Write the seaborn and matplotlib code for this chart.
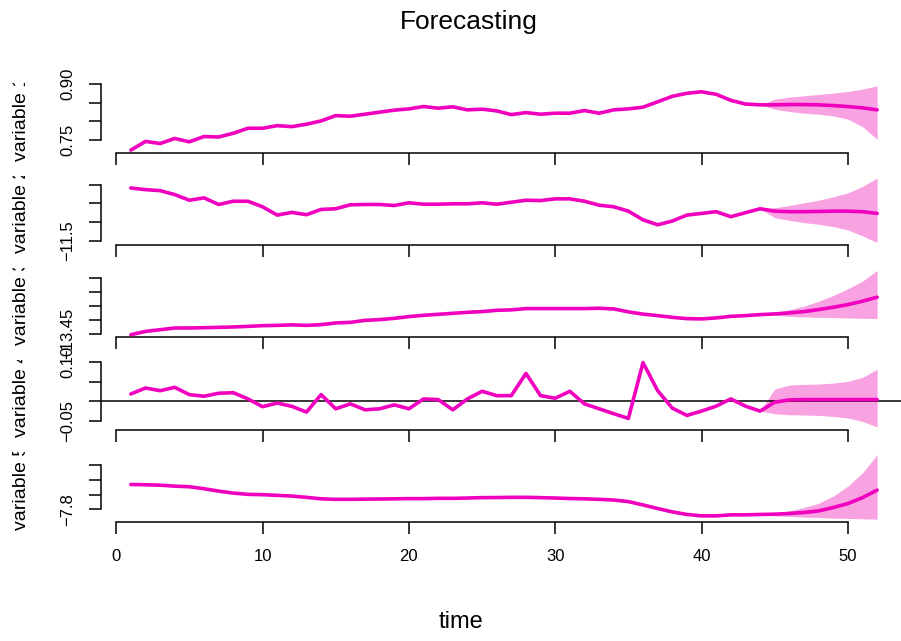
import matplotlib
matplotlib.use("Agg")
import numpy as np
import pandas as pd
import matplotlib.pyplot as plt
import seaborn as sns
from matplotlib.transforms import Bbox, TransformedBbox

sns.set_style("ticks")
plt.rcParams['font.family'] = ['Liberation Sans', 'DejaVu Sans']
plt.rcParams['text.color'] = 'black'
plt.rcParams['xtick.color'] = 'black'
plt.rcParams['ytick.color'] = 'black'
plt.rcParams['xtick.labelcolor'] = 'black'
plt.rcParams['ytick.labelcolor'] = 'black'

# observed periods and forecast horizon
time_hist = list(range(1, 45))
time_fcst = list(range(45, 53))

var1_hist = [0.724, 0.747, 0.7415, 0.7548, 0.746, 0.760, 0.7588, 0.7686, 0.7819, 0.7819,
             0.7888, 0.7862, 0.7926, 0.8013, 0.8154, 0.8138, 0.8191, 0.8245, 0.8298, 0.8332,
             0.8394, 0.8351, 0.8386, 0.8306, 0.8324, 0.8279, 0.8181, 0.8234, 0.8191, 0.8218,
             0.8218, 0.8287, 0.8218, 0.8306, 0.8332, 0.8378, 0.8519, 0.8665, 0.8745, 0.8785,
             0.8718, 0.8559, 0.8460, 0.8439]
var1_fcst = [0.8439, 0.8447, 0.8447, 0.8439, 0.8420, 0.8394, 0.8359, 0.8306]
var1_upper = [0.8590, 0.8644, 0.8678, 0.8713, 0.8750, 0.8793, 0.8856, 0.8944]
var1_lower = [0.8324, 0.8261, 0.8218, 0.8191, 0.8146, 0.8059, 0.7862, 0.7527]

var2_hist = [-11.2175, -11.2265, -11.2317, -11.2529, -11.2831, -11.2704, -11.3058, -11.2884, -11.2884, -11.3180,
             -11.3624, -11.3481, -11.3603, -11.3323, -11.3286, -11.3074, -11.3058, -11.3058, -11.3111, -11.2968,
             -11.3042, -11.3042, -11.3021, -11.3021, -11.2968, -11.3042, -11.2937, -11.2831, -11.2847, -11.2757,
             -11.2757, -11.2884, -11.3095, -11.3180, -11.3413, -11.3878, -11.4143, -11.3942, -11.3624, -11.3534,
             -11.3444, -11.3709, -11.3497, -11.3286]
var2_fcst = [-11.3413, -11.3444, -11.3444, -11.3429, -11.3413, -11.3413, -11.3444, -11.3534]
var2_upper = [-11.3233, -11.3111, -11.2968, -11.2831, -11.2651, -11.2439, -11.2090, -11.1646]
var2_lower = [-11.3762, -11.3905, -11.4026, -11.4116, -11.4238, -11.4418, -11.4735, -11.5085]

var3_hist = [-13.4536, -13.4417, -13.4356, -13.4295, -13.4295, -13.4284, -13.4273, -13.4259, -13.4237, -13.4212,
             -13.4201, -13.4183, -13.4201, -13.4176, -13.4115, -13.4094, -13.4022, -13.3996, -13.3950, -13.3888,
             -13.3842, -13.3806, -13.3770, -13.3734, -13.3709, -13.3662, -13.3647, -13.3601, -13.3601, -13.3601,
             -13.3601, -13.3601, -13.3590, -13.3612, -13.3719, -13.3799, -13.3853, -13.3914, -13.3960, -13.3971,
             -13.3935, -13.3878, -13.3853, -13.3817]
var3_fcst = [-13.3791, -13.3755, -13.3709, -13.3637, -13.3554, -13.3457, -13.3338, -13.3194]
var3_upper = [-13.3755, -13.3637, -13.3518, -13.3338, -13.3133, -13.2892, -13.2619, -13.2234]
var3_lower = [-13.3842, -13.3878, -13.3899, -13.3914, -13.3924, -13.3935, -13.3950, -13.3960]

var4_hist = [0.0185, 0.0338, 0.0269, 0.0355, 0.0168, 0.0127, 0.0203, 0.0218, 0.0058, -0.0140,
             -0.0048, -0.0132, -0.0279, 0.0168, -0.0195, -0.0069, -0.0221, -0.0195, -0.0094, -0.0195,
             0.0058, 0.0041, -0.0221, 0.0058, 0.0254, 0.0142, 0.0142, 0.0711, 0.0142, 0.0076,
             0.0254, -0.0069, -0.0195, -0.0322, -0.0442, 0.0990, 0.0269, -0.0178, -0.0365, -0.0254,
             -0.0127, 0.0058, -0.0127, -0.0254]
var4_fcst = [-0.0025, 0.0033, 0.0041, 0.0041, 0.0041, 0.0041, 0.0041, 0.0041]
var4_upper = [0.0312, 0.0414, 0.0431, 0.0439, 0.0464, 0.0508, 0.0609, 0.0820]
var4_lower = [-0.0322, -0.0348, -0.0355, -0.0365, -0.0391, -0.0431, -0.0518, -0.0660]

var5_hist = [-7.6311, -7.6331, -7.6358, -7.6426, -7.6466, -7.6601, -7.6764, -7.6899, -7.6986, -7.7007,
             -7.7054, -7.7101, -7.7189, -7.7291, -7.7324, -7.7324, -7.7311, -7.7304, -7.7291, -7.7277,
             -7.7277, -7.7257, -7.7257, -7.7236, -7.7209, -7.7203, -7.7189, -7.7189, -7.7209, -7.7236,
             -7.7270, -7.7291, -7.7324, -7.7372, -7.7480, -7.7709, -7.7953, -7.8182, -7.8358, -7.8453,
             -7.8453, -7.8385, -7.8385, -7.8358]
var5_fcst = [-7.8338, -7.8291, -7.8223, -7.8115, -7.7885, -7.7615, -7.7209, -7.6696]
var5_upper = [-7.8270, -7.8115, -7.7885, -7.7595, -7.7101, -7.6426, -7.5520, -7.4284]
var5_lower = [-7.8453, -7.8493, -7.8541, -7.8561, -7.8608, -7.8628, -7.8655, -7.8676]

var_names = ["variable 1", "variable 2", "variable 3", "variable 4", "variable 5"]

# y ticks per panel and which of them R kept a label for
y_ticks = [
    [0.75, 0.80, 0.85, 0.90],
    [-11.5, -11.4, -11.3, -11.2],
    [-13.45, -13.40, -13.35, -13.30, -13.25],
    [-0.05, 0.00, 0.05, 0.10],
    [-7.8, -7.7, -7.6, -7.5],
]
y_labels = [
    ["0.75", "", "", "0.90"],
    ["\u221211.5", "", "", ""],
    ["\u221213.45", "", "", "", ""],
    ["\u22120.05", "", "", "0.10"],
    ["\u22127.8", "", "", ""],
]
x_ticks = [0, 10, 20, 30, 40, 50]

series = [
    (var1_hist, var1_fcst, var1_upper, var1_lower),
    (var2_hist, var2_fcst, var2_upper, var2_lower),
    (var3_hist, var3_fcst, var3_upper, var3_lower),
    (var4_hist, var4_fcst, var4_upper, var4_lower),
    (var5_hist, var5_fcst, var5_upper, var5_lower),
]

line_col = "#F000BE"
band_col = "#F8A2E2"

W, H = 901, 641
fig = plt.figure(figsize=(W / 100, H / 100), dpi=100)

# panel bottoms (px from top) - R mfrow layout
bottoms = [152.7, 245.0, 337.3, 429.5, 521.7]
panel_h = 69.5
left, right = 101, 907

for i, (hist, fcst, upper, lower) in enumerate(series):
    b = bottoms[i]
    ax = fig.add_axes([left / W, 1 - b / H, (right - left) / W, panel_h / H])

    band_x = [time_hist[-1]] + time_fcst
    ax.fill_between(band_x, [hist[-1]] + lower, [hist[-1]] + upper,
                    color=band_col, lw=0, zorder=1)

    df = pd.DataFrame({"time": time_hist + time_fcst, "value": hist + fcst})
    sns.lineplot(data=df, x="time", y="value", ax=ax, color=line_col,
                 lw=2.6, zorder=3)

    if i == 3:
        ax.axhline(0, color="black", lw=1.1, zorder=2)

    ax.margins(x=0.04, y=0.04)
    ax.set_xlabel("")
    ax.set_ylabel("")

    for s in ["top", "right"]:
        ax.spines[s].set_visible(False)
    for s in ["left", "bottom"]:
        ax.spines[s].set_linewidth(1.1)
        ax.spines[s].set_color("black")
    ax.spines["bottom"].set_bounds(0, 50)
    ax.spines["left"].set_bounds(y_ticks[i][0], y_ticks[i][-1])

    ax.set_xticks(x_ticks)
    ax.set_yticks(y_ticks[i])
    ax.set_yticklabels(y_labels[i], rotation=90, va="center", fontsize=12,
                       color="black")
    ax.tick_params(axis="both", direction="out", length=8.6, width=1.1, color="black")
    ax.tick_params(axis="y", pad=10)
    if i == 4:
        ax.tick_params(axis="x", labelsize=12, pad=11, labelcolor="black")
    else:
        ax.tick_params(axis="x", labelbottom=False)

    # y label, clipped at the panel top like R's figure region
    top_frac = 1 - (b - panel_h) / H
    t = fig.text(21 / W, 1 - (b - panel_h / 2) / H, var_names[i], rotation=90,
                 ha="center", va="center", fontsize=14, color="black")
    t.set_clip_box(TransformedBbox(Bbox([[0, 0], [1, top_frac]]), fig.transFigure))
    t.set_clip_on(True)

fig.text(469 / W, 1 - 22 / H, "Forecasting", ha="center", va="center",
         fontsize=19, color="black")
fig.text(461 / W, 1 - 622 / H, "time", ha="center", va="center",
         fontsize=17, color="black")

fig.savefig("out.png", dpi=100)
